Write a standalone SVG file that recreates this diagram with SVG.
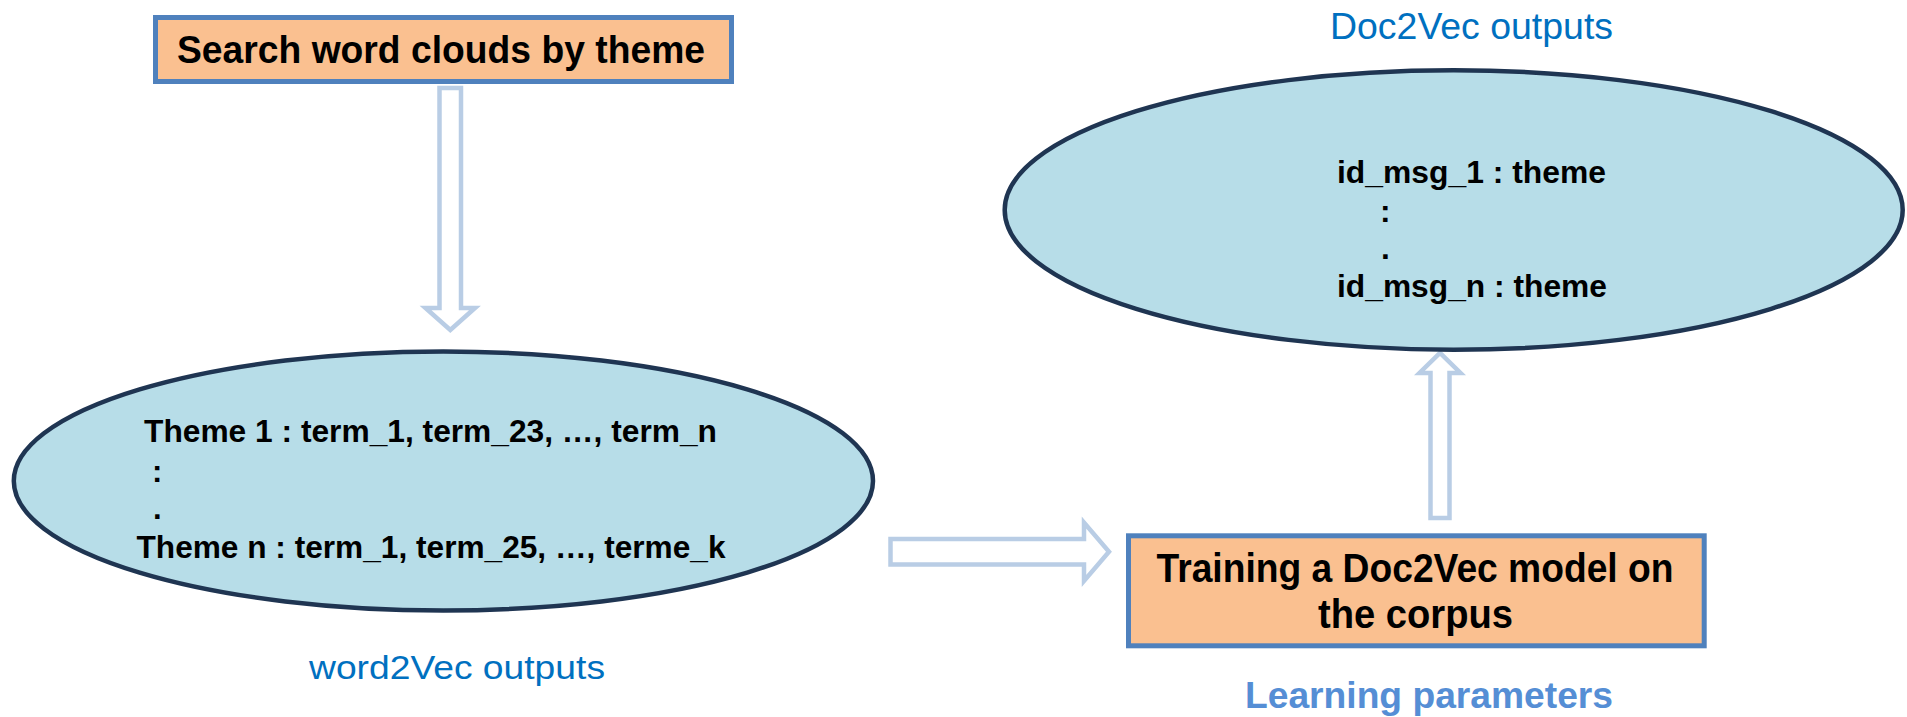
<svg xmlns="http://www.w3.org/2000/svg" width="1907" height="717" viewBox="0 0 1907 717">
<style>
.box{fill:#FAC090;stroke:#4F81BD;stroke-width:5}
.ell{fill:#B7DDE8;stroke:#1F3552;stroke-width:4.5}
.arr{fill:#FFFFFF;stroke:#B9CDE5;stroke-width:4.5;stroke-linejoin:miter}
.b{font-family:"Liberation Sans",Arial,sans-serif;font-weight:bold;fill:#000000}
.lbl{font-family:"Liberation Sans",Arial,sans-serif;fill:#0070C0}
.lp{font-family:"Liberation Sans",Arial,sans-serif;font-weight:bold;fill:#558ED5}
</style>
<rect width="1907" height="717" fill="#FFFFFF"/>
<g id="connectors">
<path class="arr" d="M439.5,88 L461,88 L461,308 L475,308 L450.3,330 L425.5,308 L439.5,308 Z"/>
<path class="arr" d="M890.5,539 L1084,539 L1084,522.5 L1109,551.7 L1084,581 L1084,564.5 L890.5,564.5 Z"/>
<path class="arr" d="M1430.5,518 L1430.5,373 L1419.5,373 L1440,353 L1460.5,373 L1449.5,373 L1449.5,518 Z"/>
</g>
<g id="search">
<rect class="box" x="155.5" y="17.5" width="576" height="64"/>
<text class="b" x="177" y="63" font-size="39" textLength="528" lengthAdjust="spacingAndGlyphs">Search word clouds by theme</text>
</g>
<g id="word2vec">
<ellipse class="ell" cx="443.4" cy="481" rx="429.6" ry="129.5"/>
<text class="b" x="144" y="442" font-size="31" textLength="573" lengthAdjust="spacingAndGlyphs">Theme 1 : term_1, term_23, …, term_n</text>
<text class="b" x="152" y="481.5" font-size="31">:</text>
<text class="b" x="153" y="519" font-size="31">.</text>
<text class="b" x="136.5" y="557.5" font-size="31" textLength="589" lengthAdjust="spacingAndGlyphs">Theme n : term_1, term_25, …, terme_k</text>
<text class="lbl" x="457" y="679" font-size="34" text-anchor="middle" textLength="296" lengthAdjust="spacingAndGlyphs">word2Vec outputs</text>
</g>
<g id="doc2vec">
<ellipse class="ell" cx="1453.7" cy="210" rx="449" ry="139.7"/>
<text class="lbl" x="1471.5" y="39" font-size="37" text-anchor="middle" textLength="283" lengthAdjust="spacingAndGlyphs">Doc2Vec outputs</text>
<text class="b" x="1337" y="183.3" font-size="31.7" textLength="269" lengthAdjust="spacingAndGlyphs">id_msg_1 : theme</text>
<text class="b" x="1380" y="221.7" font-size="31.7">:</text>
<text class="b" x="1381" y="259.3" font-size="31.7">.</text>
<text class="b" x="1337" y="296.7" font-size="31.7" textLength="270" lengthAdjust="spacingAndGlyphs">id_msg_n : theme</text>
</g>
<g id="training">
<rect class="box" x="1128.5" y="535.8" width="575.7" height="110"/>
<text class="b" x="1415" y="582.3" font-size="40" text-anchor="middle" textLength="517" lengthAdjust="spacingAndGlyphs">Training a Doc2Vec model on</text>
<text class="b" x="1415.5" y="628.3" font-size="40" text-anchor="middle" textLength="195" lengthAdjust="spacingAndGlyphs">the corpus</text>
<text class="lp" x="1429" y="708.3" font-size="37" text-anchor="middle" textLength="368" lengthAdjust="spacingAndGlyphs">Learning parameters</text>
</g>
</svg>
